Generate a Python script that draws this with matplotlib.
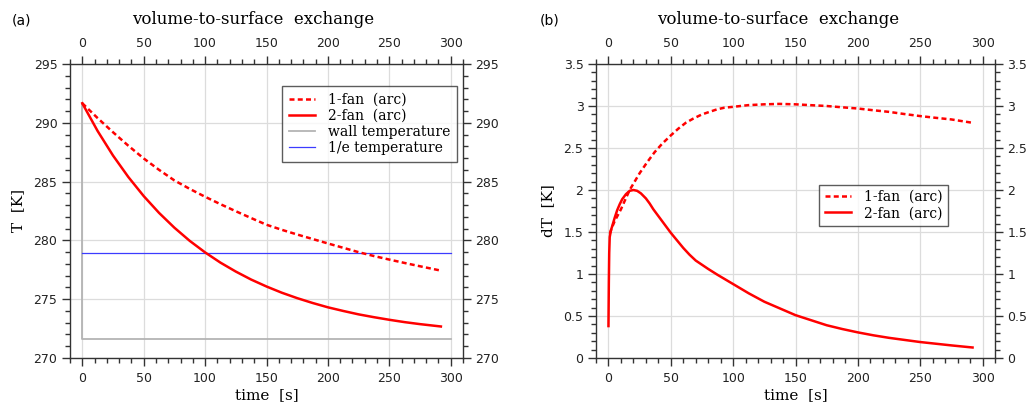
import matplotlib
matplotlib.use("Agg")
import matplotlib.pyplot as plt
from matplotlib.ticker import MultipleLocator, FormatStrFormatter

# === Données ===
# (a) température [K]
t_fan1 = [0, 12.5, 25, 37.5, 50, 62.5, 75, 87.5, 100, 112.5, 125, 137.5, 150, 162.5,
          175, 187.5, 200, 212.5, 225, 237.5, 250, 262.5, 275, 292]
T_fan1 = [291.66, 290.4, 289.2, 288.05, 286.97, 286.0, 285.1, 284.38, 283.71, 283.08,
          282.48, 281.9, 281.33, 280.9, 280.5, 280.12, 279.74, 279.37, 279.0, 278.67,
          278.37, 278.08, 277.8, 277.43]
t_fan2 = [0, 12.5, 25, 37.5, 50, 62.5, 75, 87.5, 100, 112.5, 125, 137.5, 150, 162.5,
          175, 187.5, 200, 212.5, 225, 237.5, 250, 262.5, 275, 292]
T_fan2 = [291.66, 289.3, 287.22, 285.39, 283.77, 282.34, 281.08, 279.96, 278.98,
          278.11, 277.35, 276.67, 276.08, 275.55, 275.09, 274.68, 274.31, 274.0,
          273.71, 273.47, 273.25, 273.05, 272.88, 272.68]
t_wall = [0, 0, 300]
T_wall = [291.66, 271.6, 271.6]
t_inve = [0, 300]
T_inve = [278.96, 278.96]

# (b) dT [K]
t_dfan1 = [1, 3, 5, 7.5, 10, 13, 17, 21, 25, 31, 37, 43, 50, 56, 62, 68, 75, 81, 87, 93,
           100, 112, 125, 137, 150, 162, 175, 187, 200, 212, 225, 237, 250, 262, 275, 292]
dT_fan1 = [1.48, 1.56, 1.63, 1.70, 1.77, 1.87, 2.0, 2.1, 2.2, 2.33, 2.45, 2.55, 2.65,
           2.73, 2.80, 2.85, 2.90, 2.93, 2.96, 2.98, 2.99, 3.01, 3.02, 3.025, 3.02, 3.01,
           3.0, 2.985, 2.97, 2.95, 2.93, 2.905, 2.88, 2.86, 2.84, 2.80]
t_dfan2 = [0, 0.3, 0.6, 1, 2, 3, 5, 7, 9, 11, 14, 17, 20, 23, 26, 30, 33, 36, 40, 45, 50,
           55, 60, 65, 70, 75, 80, 87.5, 100, 112.5, 125, 137.5, 150, 162.5, 175, 187.5,
           200, 212.5, 225, 237.5, 250, 262.5, 275, 292]
dT_fan2 = [0.38, 0.9, 1.25, 1.44, 1.52, 1.57, 1.67, 1.76, 1.83, 1.89, 1.95, 1.99, 2.0,
           1.99, 1.96, 1.90, 1.84, 1.77, 1.69, 1.59, 1.49, 1.40, 1.31, 1.23, 1.16, 1.11,
           1.06, 0.99, 0.88, 0.77, 0.67, 0.59, 0.51, 0.45, 0.39, 0.345, 0.305, 0.27,
           0.24, 0.215, 0.19, 0.17, 0.15, 0.125]

W, H = 1030, 408
RED = "#ff0000"
serif = "DejaVu Serif"


def box(x0, y0, x1, y1):
    # pixels -> fraction de figure
    return [x0 / W, 1 - y1 / H, (x1 - x0) / W, (y1 - y0) / H]


def style(ax):
    ax.set_xlim(-10, 310)
    ax.xaxis.set_major_locator(MultipleLocator(50))
    ax.xaxis.set_minor_locator(MultipleLocator(10))
    ax.grid(True, which="major", color="#dcdcdc", lw=0.9)
    ax.set_axisbelow(True)
    for s in ax.spines.values():
        s.set_color("#333333")
        s.set_linewidth(1.0)
    ax.tick_params(which="both", direction="out", top=True, right=True,
                   labeltop=True, labelright=True, colors="#333333",
                   labelsize=9, labelcolor="#222222")
    ax.tick_params(which="major", length=6, width=1.0)
    ax.tick_params(which="minor", length=3.5, width=1.0)
    ax.tick_params(axis="x", which="major", pad=4)
    ax.tick_params(axis="y", which="major", pad=3)
    ax.set_xlabel("time  [s]", family=serif, fontsize=11, labelpad=2)


fig = plt.figure(figsize=(W / 100, H / 100), dpi=100)

# === (a) ===
ax1 = fig.add_axes(box(70, 64, 463, 358))
style(ax1)
ax1.set_ylim(270, 295)
ax1.yaxis.set_major_locator(MultipleLocator(5))
ax1.yaxis.set_minor_locator(MultipleLocator(1))
ax1.plot(t_wall, T_wall, color="#b4b4b4", lw=1.3, label="wall temperature", zorder=2)
ax1.plot(t_inve, T_inve, color="#3c3cff", lw=0.9, label="1/e temperature", zorder=2)
ax1.plot(t_fan1, T_fan1, color=RED, lw=1.8, dashes=(2.0, 1.3), label="1-fan  (arc)", zorder=3)
ax1.plot(t_fan2, T_fan2, color=RED, lw=1.8, label="2-fan  (arc)", zorder=3)
ax1.set_ylabel("T  [K]", family=serif, fontsize=11, labelpad=6)
h, l = ax1.get_legend_handles_labels()
order = [2, 3, 0, 1]
leg1 = ax1.legend([h[i] for i in order], [l[i] for i in order],
                  loc="upper right", bbox_to_anchor=(0.985, 0.925),
                  prop={"family": serif, "size": 10}, frameon=True, fancybox=False,
                  handlelength=1.9, handletextpad=0.9, labelspacing=0.15,
                  borderpad=0.5, borderaxespad=0)
leg1.get_frame().set_edgecolor("#333333")
leg1.get_frame().set_linewidth(1.0)

# === (b) ===
ax2 = fig.add_axes(box(596, 64, 995, 358))
style(ax2)
ax2.set_ylim(0, 3.5)
ax2.yaxis.set_major_locator(MultipleLocator(0.5))
ax2.yaxis.set_minor_locator(MultipleLocator(0.1))
ax2.yaxis.set_major_formatter(FormatStrFormatter("%g"))
ax2.plot(t_dfan1, dT_fan1, color=RED, lw=1.8, dashes=(2.0, 1.3), label="1-fan  (arc)")
ax2.plot(t_dfan2, dT_fan2, color=RED, lw=1.8, label="2-fan  (arc)")
ax2.set_ylabel("dT  [K]", family=serif, fontsize=11, labelpad=6)
leg2 = ax2.legend(loc="upper left", bbox_to_anchor=(0.56, 0.59),
                  prop={"family": serif, "size": 10}, frameon=True, fancybox=False,
                  handlelength=1.9, handletextpad=0.9, labelspacing=0.15,
                  borderpad=0.4, borderaxespad=0)
leg2.get_frame().set_edgecolor("#333333")
leg2.get_frame().set_linewidth(1.0)

# === titres ===
for x_lab, x_tit, lab in [(12, 253, "(a)"), (540, 778, "(b)")]:
    fig.text(x_lab / W, 1 - 20 / H, lab, fontsize=10, va="center", ha="left")
    fig.text(x_tit / W, 1 - 20 / H, "volume-to-surface  exchange", family=serif,
             fontsize=12, va="center", ha="center")

fig.savefig("out.png", dpi=100)
